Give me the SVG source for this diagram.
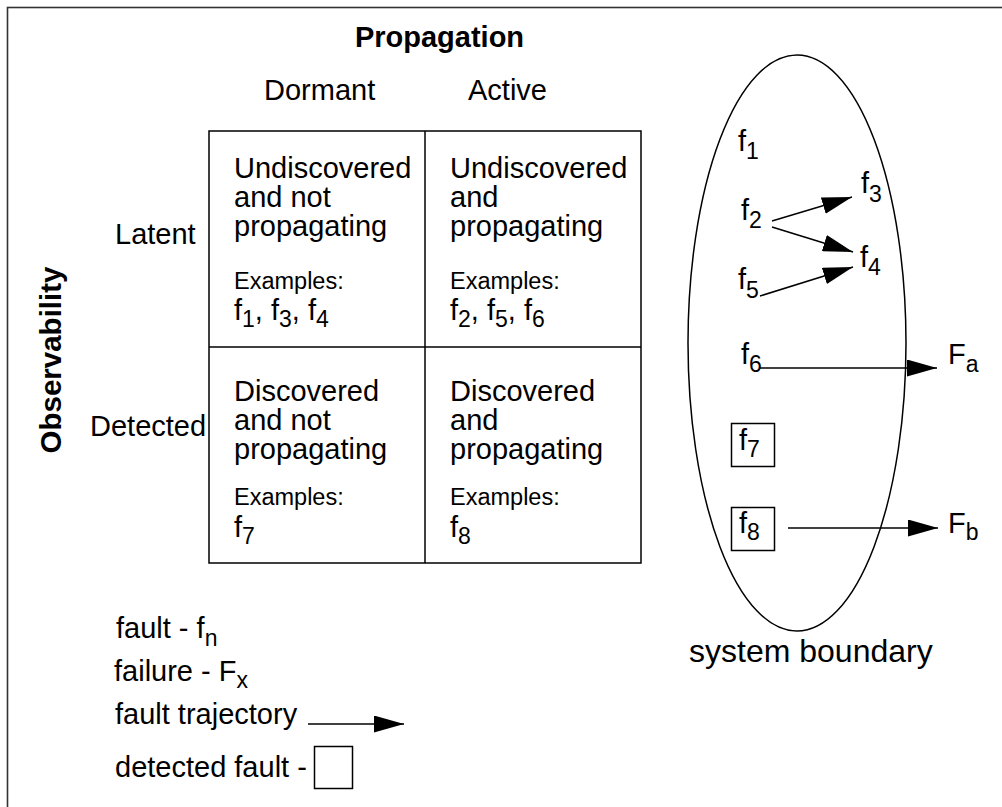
<svg xmlns="http://www.w3.org/2000/svg" width="1002" height="807" viewBox="0 0 1002 807">
<style>
text{font-family:"Liberation Sans",Arial,sans-serif;fill:#000}
.t{font-size:29px}
.b{font-size:29px;font-weight:bold}
.ob{font-size:29.5px;font-weight:bold}
.ex{font-size:23.5px}
.sb{font-size:32px}
.s{font-size:23px}
.ln{stroke:#000;stroke-width:1.5;fill:none}
.arr{stroke:#000;stroke-width:1.5;fill:none;marker-end:url(#ah)}
</style>
<defs>
<marker id="ah" markerUnits="userSpaceOnUse" markerWidth="30" markerHeight="17" refX="30" refY="8.5" orient="auto" viewBox="0 0 30 17">
<path d="M0,0 L30,8.5 L0,17 z" fill="#000"/>
</marker>
</defs>
<rect x="7.5" y="7.5" width="1100" height="900" fill="#fff" stroke="#333" stroke-width="1.6"/>

<g id="headers">
<text class="b" x="439.5" y="47" text-anchor="middle">Propagation</text>
<text class="t" x="264" y="100">Dormant</text>
<text class="t" x="468" y="100">Active</text>
<text class="t" x="115" y="244">Latent</text>
<text class="t" x="90" y="436">Detected</text>
<text class="ob" transform="translate(61,360) rotate(-90)" text-anchor="middle">Observability</text>
</g>

<g id="matrix">
<rect class="ln" x="209" y="131" width="432" height="432"/>
<line class="ln" x1="425" y1="131" x2="425" y2="563"/>
<line class="ln" x1="209" y1="347" x2="641" y2="347"/>
</g>

<g id="cell-latent-dormant">
<text class="t" x="234" y="178">Undiscovered<tspan x="234" dy="29">and not</tspan><tspan x="234" dy="29">propagating</tspan></text>
<text class="ex" x="234" y="289">Examples:</text>
<text class="t" x="234" y="320">f<tspan class="s" dy="7">1</tspan><tspan dy="-7">, f</tspan><tspan class="s" dy="7">3</tspan><tspan dy="-7">, f</tspan><tspan class="s" dy="7">4</tspan></text>
</g>
<g id="cell-latent-active">
<text class="t" x="450" y="178">Undiscovered<tspan x="450" dy="29">and</tspan><tspan x="450" dy="29">propagating</tspan></text>
<text class="ex" x="450" y="289">Examples:</text>
<text class="t" x="450" y="320">f<tspan class="s" dy="7">2</tspan><tspan dy="-7">, f</tspan><tspan class="s" dy="7">5</tspan><tspan dy="-7">, f</tspan><tspan class="s" dy="7">6</tspan></text>
</g>
<g id="cell-detected-dormant">
<text class="t" x="234" y="401">Discovered<tspan x="234" dy="29">and not</tspan><tspan x="234" dy="29">propagating</tspan></text>
<text class="ex" x="234" y="505">Examples:</text>
<text class="t" x="234" y="537">f<tspan class="s" dy="7">7</tspan></text>
</g>
<g id="cell-detected-active">
<text class="t" x="450" y="401">Discovered<tspan x="450" dy="29">and</tspan><tspan x="450" dy="29">propagating</tspan></text>
<text class="ex" x="450" y="505">Examples:</text>
<text class="t" x="450" y="537">f<tspan class="s" dy="7">8</tspan></text>
</g>

<g id="system-boundary">
<ellipse class="ln" cx="797" cy="343" rx="109" ry="288"/>
<text class="sb" x="689" y="662">system boundary</text>
</g>

<g id="f1"><text class="t" x="738" y="151">f<tspan class="s" dy="8">1</tspan></text></g>
<g id="f2"><text class="t" x="741" y="220">f<tspan class="s" dy="8">2</tspan></text></g>
<g id="f3"><text class="t" x="861" y="193">f<tspan class="s" dy="9">3</tspan></text></g>
<g id="f4"><text class="t" x="860" y="267">f<tspan class="s" dy="8">4</tspan></text></g>
<g id="f5"><text class="t" x="738" y="289">f<tspan class="s" dy="9">5</tspan></text></g>
<g id="f6"><text class="t" x="741" y="364">f<tspan class="s" dy="8">6</tspan></text></g>
<g id="f7"><rect class="ln" x="731.5" y="423.5" width="43" height="43"/><text class="t" x="739" y="450">f<tspan class="s" dy="7">7</tspan></text></g>
<g id="f8"><rect class="ln" x="731.5" y="507.5" width="43" height="43"/><text class="t" x="739" y="533">f<tspan class="s" dy="7">8</tspan></text></g>
<g id="Fa"><text class="t" x="948" y="364">F<tspan class="s" dy="8">a</tspan></text></g>
<g id="Fb"><text class="t" x="948" y="533">F<tspan class="s" dy="7">b</tspan></text></g>

<g id="connectors">
<line class="arr" x1="772" y1="221" x2="852" y2="197"/>
<line class="arr" x1="772" y1="227" x2="853" y2="252"/>
<line class="arr" x1="760" y1="296" x2="853" y2="267"/>
<line class="arr" x1="760" y1="368" x2="937" y2="368"/>
<line class="arr" x1="788" y1="528" x2="938" y2="528"/>
</g>

<g id="legend">
<text class="t" x="116" y="638">fault - f<tspan class="s" dy="8">n</tspan></text>
<text class="t" x="114" y="681">failure - F<tspan class="s" dy="7">x</tspan></text>
<text class="t" x="115" y="724">fault trajectory</text>
<line class="arr" x1="308" y1="724" x2="404" y2="724"/>
<text class="t" x="115" y="777">detected fault -</text>
<rect class="ln" x="314.5" y="746.5" width="38" height="42"/>
</g>
</svg>
